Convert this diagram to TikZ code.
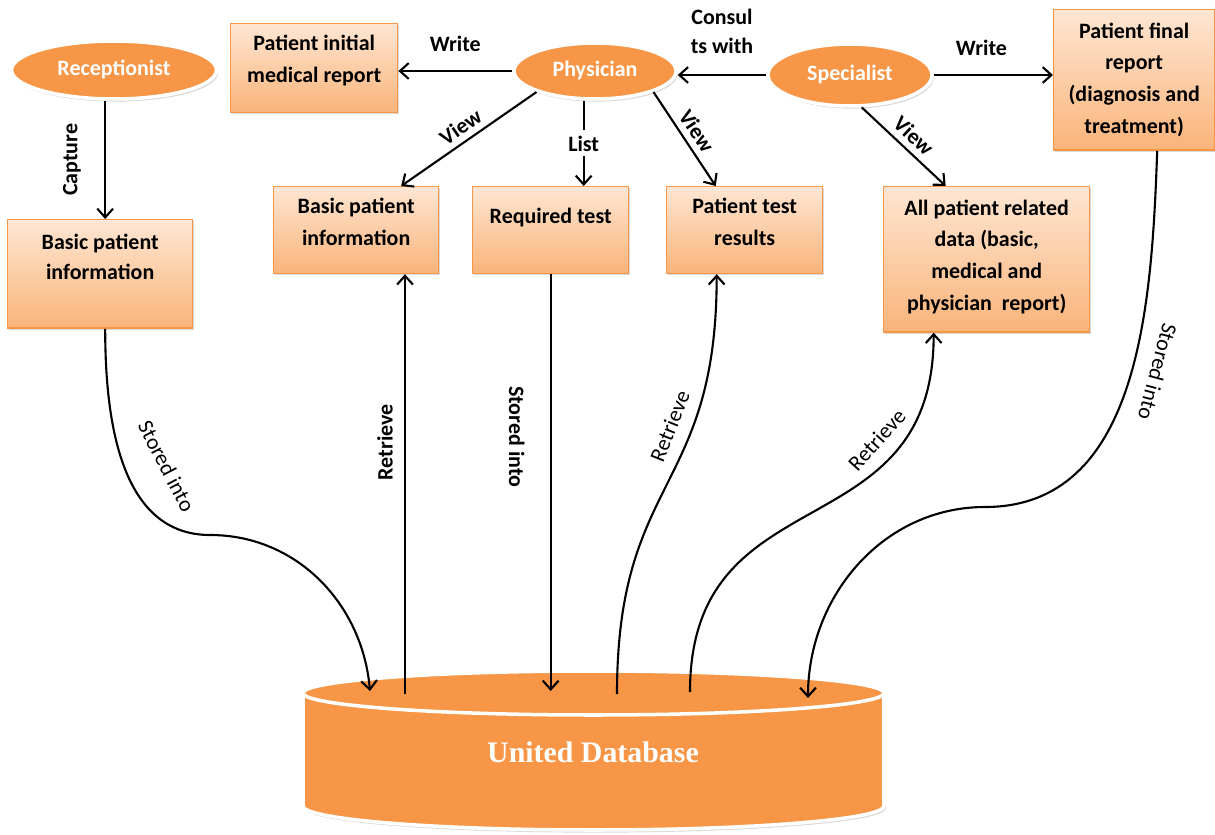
\documentclass[tikz,border=0pt]{standalone}
\usepackage{fontspec}
\setmainfont{Carlito}
\newfontfamily\dbfont{Liberation Serif}
\usetikzlibrary{arrows.meta,calc,shadows,shapes.geometric}

\definecolor{orangeacc}{HTML}{F79646}
\definecolor{boxtop}{HTML}{FEE6D3}
\definecolor{boxbot}{HTML}{FAB47A}

\begin{document}
\begin{tikzpicture}[x=0.02cm, y=0.02cm, >={Straight Barb[length=5pt,width=9pt]},
    every node/.style={font=\fontsize{12.5}{17}\selectfont\bfseries},
    box/.style 2 args={draw=orangeacc, line width=0.8pt, top color=boxtop, bottom color=boxbot,
        anchor=north west, align=center, inner ysep=0pt, text height=#1, text depth=#2,
        drop shadow={shadow xshift=1pt, shadow yshift=-1pt, opacity=0.3}},
    widebox/.style={font=\fontsize{12.5}{18.1}\selectfont\bfseries},
    actor/.style={ellipse, fill=orangeacc, draw=white, line width=2pt, text=white, inner sep=0pt,
        drop shadow={shadow xshift=1pt, shadow yshift=-1.5pt, opacity=0.3}},
    arr/.style={->, line width=1.2pt},
    curvelbl/.style={font=\fontsize{12.5}{17}\selectfont}]
        \useasboundingbox (0,0) rectangle (1215,-835);

        % people
        \node[actor, minimum width=4.1cm, minimum height=1.16cm] (recep) at (114,-70) {Receptionist};
        \node[actor, minimum width=3.24cm, minimum height=1.12cm] (phys) at (595,-71) {Physician};
        \node[actor, minimum width=3.28cm, minimum height=1.24cm] (spec) at (850,-75) {Specialist};

        % data boxes (text height runs down to the last line)
        \node[box={33.5pt}{16.9pt}, widebox, minimum width=3.34cm] (irep) at (230,-23) {Patient initial\\medical report};
        \node[box={34pt}{27.7pt}, minimum width=3.7cm] (bpiL) at (7,-219) {Basic patient\\information};
        \node[box={33.4pt}{16pt}, widebox, minimum width=3.3cm] (bpiM) at (273,-186) {Basic patient\\information};
        \node[box={21pt}{28.3pt}, minimum width=3.12cm] (reqt) at (472,-186) {Required test};
        \node[box={33.4pt}{16pt}, widebox, minimum width=3.12cm] (ptr) at (666,-186) {Patient test\\results};
        \node[box={70.5pt}{12.2pt}, widebox, minimum width=4.12cm] (apd) at (883,-186) {All patient related\\data (basic,\\medical and\\physician\ \ report)};
        \node[box={70.5pt}{9.4pt}, widebox, minimum width=3.22cm] (frep) at (1053,-9) {Patient final\\report\\(diagnosis and\\treatment)};

        % database
        \path[fill=orangeacc, draw=white, line width=2pt, drop shadow={shadow xshift=1pt, shadow yshift=-1.5pt, opacity=0.3}]
            (303,-693) -- (303,-806) arc[start angle=180, end angle=360, x radius=290.5, y radius=24]
            -- (884,-693) arc[start angle=0, end angle=180, x radius=290.5, y radius=22] -- cycle;
        \draw[white, line width=2pt] (303,-693) arc[start angle=180, end angle=360, x radius=290.5, y radius=22];
        \node[font=\dbfont\fontsize{17}{20}\selectfont\bfseries, text=white] (db) at (593,-752) {United Database};

        \coordinate (dbA) at (370,-691);
        \coordinate (dbB) at (405,-694);
        \coordinate (dbC) at (548,-691);
        \coordinate (dbD) at (617,-694);
        \coordinate (dbE) at (690,-692);
        \coordinate (dbF) at (808,-698);
        \coordinate (bendA) at (210,-535);
        \coordinate (bendF) at (985,-507);
        \coordinate (listx) at ($(reqt.north)+(33,0)$);

        % top arrows
        \draw[arr] ($(bpiL.north |- recep.south)+(5,0)$) -- ($(bpiL.north)+(5,0)$) node[midway, rotate=90, above=10pt] {Capture};
        \draw[arr] (phys.west) -- (phys.west -| irep.east) node[midway, above=7pt] {Write};
        \draw[arr] (spec.west) -- (spec.west -| phys.east) node[midway, above=8pt, align=center] {Consul\\ts with};
        \draw[arr] (spec.east) -- (spec.east -| frep.west) node[pos=.4, above=7pt] {Write};
        \draw[arr] (phys.south west) -- ($(bpiM.north)+(45,0)$) node[midway, sloped, above] {View};
        \draw[arr] (listx |- phys.south) -- (listx) node[midway, fill=white, inner sep=3pt] {List};
        \draw[arr] (phys.south east) -- ($(ptr.north)+(-29,0)$) node[midway, sloped, above] {View};
        \draw[arr] (spec.-70) -- ($(apd.north)+(-41,0)$) node[midway, sloped, above] {View};

        % to and from the database
        \draw[arr] ($(bpiL.south)+(5,0)$) to[out=-90, in=180] node[pos=.58, sloped, above=14pt, curvelbl] {Stored into} (bendA)
            to[out=0, in=95] (dbA);
        \draw[arr] (dbB) -- (dbB |- bpiM.south) node[pos=.6, rotate=90, above=3pt] {Retrieve};
        \draw[arr] (reqt.south) -- (reqt.south |- dbC) node[pos=.39, rotate=-90, below=11pt] {Stored into};
        \draw[arr] (dbD) to[out=90, in=-90, looseness=1.3] node[pos=.66, sloped, above=4pt, curvelbl] {Retrieve} ($(ptr.south)+(-28,0)$);
        \draw[arr] (dbE) to[out=90, in=-90, looseness=1.3] node[pos=.74, sloped, above=4pt, curvelbl] {Retrieve} ($(apd.south)+(-53,0)$);
        \draw[arr] ($(frep.south)+(23,0)$) to[out=-92, in=0] node[pos=.45, sloped, allow upside down, above=6pt, curvelbl] {Stored into} (bendF)
            to[out=180, in=90] (dbF);
    \end{tikzpicture}
\end{document}
